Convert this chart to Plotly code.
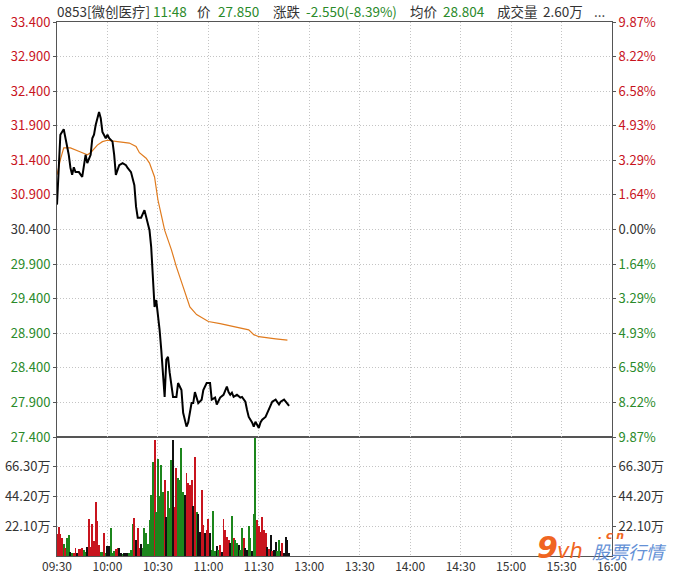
import plotly.graph_objects as go

# ---------------- data ----------------
prev_close = 30.4

price_min = [0,2,4,5,7,8,9,10,11,13,15,17,18,20,21,22,23,25,26,27,29,30,31,33,34,35,37,39,41,42,
             44,46,47,48,50,52,53,55,56,57,58,59,60,61,62,63,64,65,66,67,69,71,72,74,75,77,78,80,81,82,
             84,86,87,89,91,92,94,95,97,99,101,102,103,104,105,107,109,110,112,113,114,116,117,118,120,121,122,124,126,128,
             130,132,133,135,136,138]
price_val = [30.76,31.77,31.85,31.72,31.48,31.29,31.19,31.30,31.23,31.23,31.16,31.48,31.36,31.48,31.72,31.77,31.91,32.10,32.01,31.81,
             31.72,31.77,31.72,31.67,31.48,31.19,31.33,31.36,31.33,31.29,31.23,31.04,30.73,30.57,30.57,30.68,30.58,30.39,30.15,29.67,
             29.28,29.38,29.19,28.95,28.66,28.33,27.98,28.52,28.56,28.33,27.98,27.98,28.18,28.08,27.75,27.55,27.61,27.89,27.89,28.05,
             27.89,27.94,28.08,28.18,28.18,27.94,27.97,27.87,27.97,28.01,28.13,28.05,28.01,28.04,27.98,28.01,27.97,27.98,27.91,27.79,
             27.69,27.61,27.55,27.62,27.53,27.61,27.65,27.69,27.79,27.91,27.94,27.87,27.91,27.94,27.91,27.85]

avg_min = [0,2,4,8,14,18,20,24,27,30,36,43,47,49,53,55,58,60,62,64,68,71,75,79,83,90,97,105,114,117,120,130,137]
avg_val = [31.19,31.41,31.58,31.58,31.52,31.48,31.51,31.62,31.67,31.69,31.67,31.65,31.60,31.51,31.43,31.36,31.16,30.83,30.61,30.39,
           30.11,29.86,29.57,29.28,29.17,29.07,29.04,29.00,28.95,28.88,28.85,28.82,28.80]

vol_val = [16.3,21.3,16.3,13.1,8.9,5.7,13.1,15.6,3.2,2.5,
           2.0,6.2,2.0,5.0,5.0,5.7,4.5,3.2,6.9,27.5,
           6.9,23.5,11.1,39.9,25.8,8.2,3.2,3.2,16.8,2.5,
           7.4,7.4,21.1,2.0,3.7,5.0,5.7,5.7,2.0,1.5,
           2.0,2.5,2.0,2.5,4.5,23.5,28.0,11.9,21.1,5.7,
           8.7,5.7,21.1,16.8,8.9,26.8,45.3,70.1,86.2,32.9,
           72.1,44.6,67.6,47.8,56.5,29.2,48.3,35.9,71.3,86.2,
           36.2,65.1,57.7,56.5,80.0,47.8,45.3,61.4,54.5,52.8,
           56.5,37.2,73.8,32.9,31.0,18.1,49.0,23.0,16.8,19.3,
           27.5,16.8,4.5,33.7,4.0,7.4,4.5,8.2,3.2,27.5,
           19.3,14.4,11.9,9.4,30.0,13.1,11.9,9.9,8.2,4.5,
           21.1,13.1,5.7,4.5,22.3,13.1,4.0,31.0,87.4,26.8,
           22.3,18.1,29.2,19.3,16.8,6.9,5.0,15.6,3.7,4.5,
           10.7,3.7,11.9,4.0,9.9,2.5,13.9,11.9,2.0]
vol_dir = list("rrrrgrggkg"
               "rrkrrrggkr"
               "rrrrrrggrg"
               "kkgggrrkkg"
               "kkkgggrkrr"
               "kgggggggrg"
               "ggggrkgggk"
               "rrggggkrrr"
               "rkrgkkrrkr"
               "rkgggkgrkr"
               "rrrkgrggkg"
               "grkkggkggr"
               "rrrrrkrkrk"
               "kggkrkkkk")
vol_min = list(range(len(vol_val)))

time_ticks = [0, 30, 60, 90, 120, 150, 180, 210, 240, 270, 300, 330]
time_labels = ['09:30', '10:00', '10:30', '11:00', '11:30', '13:00', '13:30', '14:00', '14:30', '15:00', '15:30', '16:00']

price_ticks = [33.4, 32.9, 32.4, 31.9, 31.4, 30.9, 30.4, 29.9, 29.4, 28.9, 28.4, 27.9, 27.4]
price_labels = ['33.400', '32.900', '32.400', '31.900', '31.400', '30.900', '30.400',
                '29.900', '29.400', '28.900', '28.400', '27.900', '27.400']
pct_labels = ['9.87%', '8.22%', '6.58%', '4.93%', '3.29%', '1.64%', '0.00%',
              '1.64%', '3.29%', '4.93%', '6.58%', '8.22%', '9.87%']

vol_ticks = [22.1, 44.2, 66.3]
vol_labels = ['22.10万', '44.20万', '66.30万']
vol_max = 88.4

header = [("0853[微创医疗]", "dark", 57), ("11:48", "green", 153), ("价", "dark", 197),
          ("27.850", "green", 218), ("涨跌", "dark", 273), ("-2.550(-8.39%)", "green", 306),
          ("均价", "dark", 410), ("28.804", "green", 443), ("成交量", "dark", 497),
          ("2.60万", "dark", 543), ("...", "dark", 594)]

# ---------------- style ----------------
RED = "#c8141e"
GREEN = "#2a8a2a"
DARK = "#333333"
GRID = "#c4c4c4"
AXIS = "#555555"
FONT = "Noto Sans CJK SC"
W, H = 679, 574
PX0, PY0, PX1, PY1 = 57, 22, 612, 556   # plot box in pixels
L, T = PX0, PY0
PW, PH = PX1 - PX0, PY1 - PY0
R, B = W - L - PW, H - T - PH
vol_frac = (PY1 - 437) / PH


def xp(px):
    return (px - PX0) / PW


def yp(py):
    return 1 - (py - PY0) / PH


def tick_color(v):
    if abs(v - prev_close) < 1e-9:
        return DARK
    return RED if v > prev_close else GREEN


left_txt = [f"<span style='color:{tick_color(v)}'>{t}</span>" for v, t in zip(price_ticks, price_labels)]
right_txt = [f"<span style='color:{tick_color(v)}'>{t}</span>" for v, t in zip(price_ticks, pct_labels)]
bar_colors = [{"r": RED, "g": "#1c861c", "k": "#111111"}[d] for d in vol_dir]

fig = go.Figure()
fig.add_trace(go.Bar(x=vol_min, y=vol_val, marker=dict(color=bar_colors, line=dict(width=0)),
                     width=0.6, xaxis="x", yaxis="y2", showlegend=False, hoverinfo="skip"))
fig.add_trace(go.Scatter(x=avg_min, y=avg_val, mode="lines", line=dict(color="#e07b1e", width=1.2),
                         xaxis="x2", yaxis="y", showlegend=False, hoverinfo="skip"))
fig.add_trace(go.Scatter(x=price_min, y=price_val, mode="lines", line=dict(color="#000000", width=2),
                         xaxis="x2", yaxis="y", showlegend=False, hoverinfo="skip"))
# invisible helpers so right-hand axes are drawn
fig.add_trace(go.Scatter(x=[0], y=[prev_close], mode="markers", marker=dict(opacity=0),
                         xaxis="x2", yaxis="y3", showlegend=False, hoverinfo="skip"))
fig.add_trace(go.Scatter(x=[0], y=[0], mode="markers", marker=dict(opacity=0),
                         xaxis="x", yaxis="y4", showlegend=False, hoverinfo="skip"))

xcommon = dict(range=[0, 330], tickvals=time_ticks, showgrid=True, gridcolor=GRID, griddash="1px,2px",
               gridwidth=1, showline=True, linecolor=AXIS, linewidth=1, mirror=True, zeroline=False,
               fixedrange=True, automargin=False)
ycommon = dict(showgrid=True, gridcolor=GRID, griddash="1px,2px", gridwidth=1, showline=True,
               linecolor=AXIS, linewidth=1, mirror=True, zeroline=False, ticks="outside",
               ticklen=3, tickcolor=AXIS, automargin=False,
               tickfont=dict(family=FONT, size=13, color=DARK))

fig.update_layout(
    width=W, height=H, margin=dict(l=L, r=R, t=T, b=B, autoexpand=False),
    paper_bgcolor="white", plot_bgcolor="white", bargap=0,
    font=dict(family=FONT, size=12, color=DARK),
    xaxis=dict(**xcommon, domain=[0, 1], anchor="y2", ticktext=time_labels, ticks="",
               tickfont=dict(family=FONT, size=12, color=DARK)),
    xaxis2=dict(**xcommon, domain=[0, 1], anchor="y", matches="x", showticklabels=False, ticks=""),
    yaxis=dict(**ycommon, domain=[vol_frac, 1], anchor="x2", range=[price_ticks[-1], price_ticks[0]],
               tickvals=price_ticks, ticktext=left_txt),
    yaxis3=dict(**{**ycommon, "showgrid": False}, overlaying="y", side="right", anchor="x2",
                range=[price_ticks[-1], price_ticks[0]], tickvals=price_ticks, ticktext=right_txt),
    yaxis2=dict(**ycommon, domain=[0, vol_frac], anchor="x", range=[0, vol_max],
                tickvals=vol_ticks, ticktext=vol_labels),
    yaxis4=dict(**{**ycommon, "showgrid": False}, overlaying="y2", side="right", anchor="x",
                range=[0, vol_max], tickvals=vol_ticks, ticktext=vol_labels),
)

# header line
for txt, col, px in header:
    fig.add_annotation(text=txt, xref="paper", yref="paper", x=xp(px), y=yp(11),
                       xanchor="left", yanchor="middle", showarrow=False, xshift=-2,
                       font=dict(family=FONT, size=13.5, color=GREEN if col == "green" else DARK))

# watermark
fig.add_annotation(text="<b><i>9</i></b>", xref="paper", yref="paper", x=xp(535), y=yp(547),
                   xanchor="left", yanchor="middle", showarrow=False,
                   font=dict(family="DejaVu Sans", size=30, color="#f06522"))
fig.add_annotation(text="<i>vh</i>", xref="paper", yref="paper", x=xp(555), y=yp(551),
                   xanchor="left", yanchor="middle", showarrow=False,
                   font=dict(family="DejaVu Sans", size=21, color="#f06522"))
fig.add_annotation(text="<b><i>. c n</i></b>", xref="paper", yref="paper", x=xp(596), y=yp(535),
                   xanchor="left", yanchor="middle", showarrow=False,
                   font=dict(family="DejaVu Sans", size=11, color="#f06522"))
fig.add_annotation(text="<i>股票行情</i>", xref="paper", yref="paper", x=xp(590), y=yp(551),
                   xanchor="left", yanchor="middle", showarrow=False,
                   font=dict(family=FONT, size=18, color="#4a7ed0"), opacity=0.85)

# remove the browser's default 8px page margin so the figure fills the window
fig.write_html("out.html", config={"displayModeBar": False},
               post_script="document.body.style.margin='0';")
